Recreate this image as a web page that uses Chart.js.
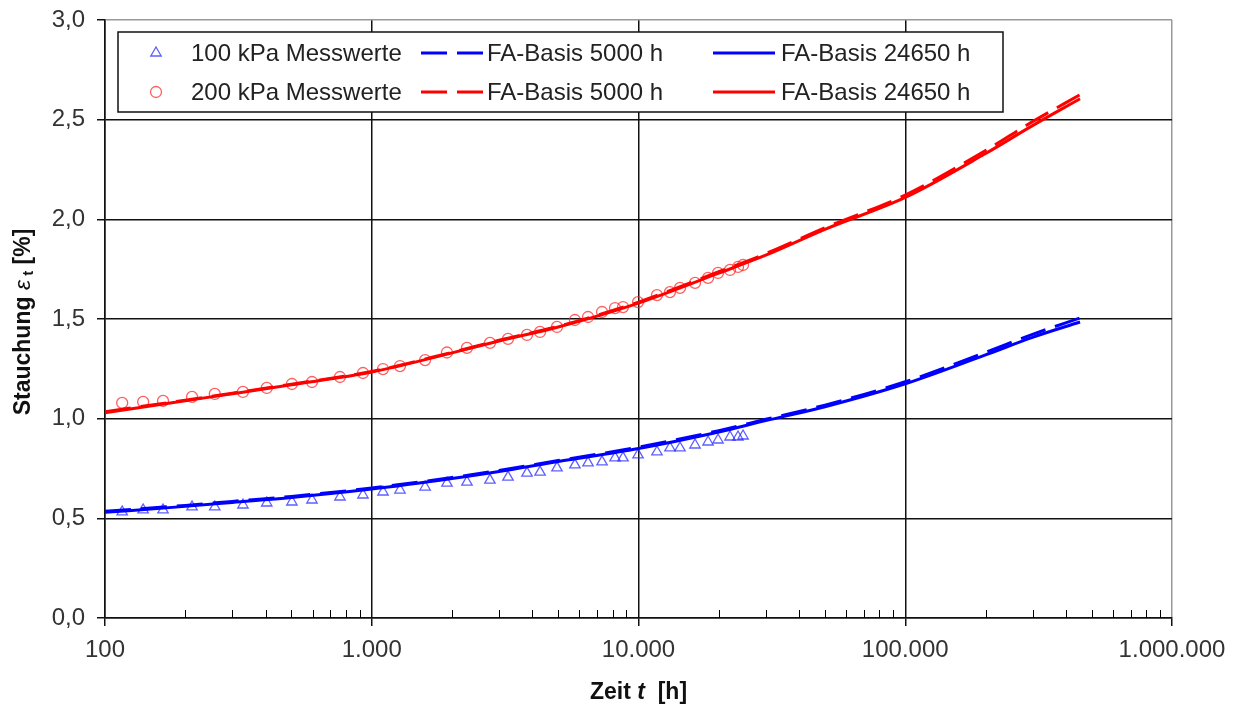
<!DOCTYPE html>
<html>
<head>
<meta charset="utf-8">
<script src="https://cdn.jsdelivr.net/npm/chart.js@4.4.1/dist/chart.umd.min.js"></script>
<style>
  html, body { margin: 0; padding: 0; background: #fff; }
  #wrap { width: 1239px; height: 709px; }
</style>
</head>
<body>
<div id="wrap"><canvas id="chart"></canvas></div>
<script>
// Zeit t [h] fuer die FA-Basis Kurven
var tFit = [100, 200, 300, 500, 1000, 2000, 3000, 5000, 10000, 20000, 30000, 50000, 100000, 200000, 300000, 452000];
// Stauchung [%]
var blue5000  = [0.535, 0.565, 0.585, 0.61, 0.652, 0.705, 0.74, 0.79, 0.857, 0.94, 0.997, 1.068, 1.185, 1.333, 1.423, 1.505];
var blue24650 = [0.53, 0.56, 0.58, 0.605, 0.647, 0.70, 0.735, 0.785, 0.85, 0.933, 0.99, 1.06, 1.175, 1.32, 1.408, 1.485];
var red5000   = [1.035, 1.093, 1.128, 1.173, 1.237, 1.333, 1.393, 1.463, 1.585, 1.737, 1.828, 1.958, 2.122, 2.345, 2.49, 2.625];
var red24650  = [1.03, 1.09, 1.125, 1.17, 1.234, 1.33, 1.39, 1.46, 1.58, 1.73, 1.82, 1.95, 2.11, 2.33, 2.47, 2.605];

// Messwerte
var tMess = [116, 139, 165, 212, 258, 329, 404, 502, 597, 760, 927, 1102, 1276, 1585, 1914, 2275, 2774, 3242, 3820, 4275, 4948, 5777, 6469, 7300, 8166, 8750, 9960, 11730, 13120, 14310, 16290, 18230, 19870, 22030, 23610, 24660];
var mess100 = [0.532, 0.542, 0.542, 0.557, 0.557, 0.567, 0.577, 0.582, 0.592, 0.607, 0.617, 0.632, 0.642, 0.657, 0.677, 0.682, 0.692, 0.707, 0.727, 0.732, 0.753, 0.768, 0.778, 0.783, 0.803, 0.803, 0.818, 0.833, 0.853, 0.853, 0.868, 0.883, 0.893, 0.908, 0.908, 0.913];
var mess200 = [1.079, 1.084, 1.089, 1.109, 1.124, 1.134, 1.154, 1.174, 1.184, 1.209, 1.229, 1.249, 1.264, 1.294, 1.332, 1.355, 1.380, 1.400, 1.420, 1.435, 1.460, 1.495, 1.510, 1.535, 1.555, 1.560, 1.585, 1.620, 1.635, 1.656, 1.681, 1.706, 1.731, 1.746, 1.761, 1.771];

var xTicks = [];
for (let e = 2; e < 6; e++) {
  for (let k = 1; k < 10; k++) xTicks.push(k * Math.pow(10, e));
}
xTicks.push(1000000);
var yTicks = [0, 0.5, 1.0, 1.5, 2.0, 2.5, 3.0];

function pts(xs, ys) {
  return xs.map((x, i) => ({ x: x, y: ys[i] }));
}
function isDecade(v) {
  let l = Math.log10(v);
  return Math.abs(l - Math.round(l)) < 1e-9;
}
function fmtDE(v) {
  return String(Math.round(v)).replace(/\B(?=(\d{3})+(?!\d))/g, '.');
}

const FONT = "'Liberation Sans', Arial, sans-serif";

// eigene Legende (3 Spalten x 2 Zeilen) und Achsentitel
const extras = {
  id: 'extras',
  afterDraw(chart) {
    const ctx = chart.ctx;
    const area = chart.chartArea;
    const xs = chart.scales.x;

    // kleine Zwischenstriche innen an der x-Achse
    ctx.save();
    ctx.strokeStyle = '#000';
    ctx.lineWidth = 1;
    xTicks.forEach(v => {
      if (isDecade(v)) return;
      const px = Math.round(xs.getPixelForValue(v)) + 0.5;
      ctx.beginPath();
      ctx.moveTo(px, area.bottom);
      ctx.lineTo(px, area.bottom - 8);
      ctx.stroke();
    });
    ctx.restore();

    // Legende
    ctx.save();
    ctx.fillStyle = '#fff';
    ctx.fillRect(118, 32, 885, 80);
    ctx.strokeStyle = '#111';
    ctx.lineWidth = 1.5;
    ctx.strokeRect(118, 32, 885, 80);
    const rowsY = [53, 92];
    const colMark = [[156, 156], [421, 483], [713, 775]];
    const colText = [191, 487, 781];
    ctx.font = '24px ' + FONT;
    ctx.textBaseline = 'middle';
    chart.data.datasets.forEach((ds, i) => {
      const r = Math.floor(i / 3), c = i % 3;
      const y = rowsY[r];
      if (ds.showLine === false) {
        ctx.save();
        ctx.strokeStyle = ds.borderColor;
        ctx.fillStyle = 'rgba(0,0,0,0)';
        ctx.lineWidth = ds.pointBorderWidth;
        Chart.helpers.drawPoint(ctx, {
          pointStyle: ds.pointStyle,
          rotation: 0,
          radius: ds.pointRadius,
          borderWidth: ds.pointBorderWidth
        }, colMark[c][0], y);
        ctx.restore();
      } else {
        ctx.save();
        ctx.strokeStyle = ds.borderColor;
        ctx.lineWidth = ds.borderWidth;
        ctx.setLineDash(ds.borderDash || []);
        ctx.beginPath();
        ctx.moveTo(colMark[c][0], y);
        ctx.lineTo(colMark[c][1], y);
        ctx.stroke();
        ctx.restore();
      }
      ctx.fillStyle = '#222';
      ctx.textAlign = 'left';
      ctx.fillText(ds.label, colText[c], y + 1);
    });
    ctx.restore();

    // x-Achsentitel: Zeit t [h]
    ctx.save();
    ctx.fillStyle = '#111';
    ctx.textBaseline = 'middle';
    const partsX = [['bold 23px ' + FONT, 'Zeit '], ['italic bold 23px ' + FONT, 't'], ['bold 23px ' + FONT, '  [h]']];
    let wX = 0;
    partsX.forEach(p => { ctx.font = p[0]; wX += ctx.measureText(p[1]).width; });
    let cx = (area.left + area.right) / 2 - wX / 2;
    partsX.forEach(p => { ctx.font = p[0]; ctx.fillText(p[1], cx, 693); cx += ctx.measureText(p[1]).width; });
    ctx.restore();

    // y-Achsentitel: Stauchung εt [%]
    ctx.save();
    ctx.translate(24, 322);
    ctx.rotate(-Math.PI / 2);
    ctx.fillStyle = '#111';
    ctx.textBaseline = 'middle';
    const partsY = [['bold 23px ' + FONT, 'Stauchung ', 0], ['italic 23px ' + FONT, 'ε', 0], ['bold 15px ' + FONT, ' t', 5], ['bold 23px ' + FONT, ' [%]', 0]];
    let wY = 0;
    partsY.forEach(p => { ctx.font = p[0]; wY += ctx.measureText(p[1]).width; });
    let cy = -wY / 2;
    partsY.forEach(p => { ctx.font = p[0]; ctx.fillText(p[1], cy, p[2]); cy += ctx.measureText(p[1]).width; });
    ctx.restore();
  }
};

const ctx = document.getElementById('chart').getContext('2d');
const chart = new Chart(ctx, {
  type: 'scatter',
  data: {
    datasets: [
      {
        label: '100 kPa Messwerte',
        data: pts(tMess, mess100),
        showLine: false,
        pointStyle: 'triangle',
        pointRadius: 6,
        pointBorderWidth: 1.3,
        borderColor: 'rgba(40,40,255,0.75)',
        backgroundColor: 'rgba(0,0,0,0)',
        order: 3
      },
      {
        label: 'FA-Basis 5000 h',
        data: pts(tFit, blue5000),
        showLine: true,
        pointRadius: 0,
        borderColor: '#0000ff',
        borderWidth: 3,
        borderDash: [26, 10],
        cubicInterpolationMode: 'monotone',
        order: 1
      },
      {
        label: 'FA-Basis 24650 h',
        data: pts(tFit, blue24650),
        showLine: true,
        pointRadius: 0,
        borderColor: '#0000ff',
        borderWidth: 3,
        cubicInterpolationMode: 'monotone',
        order: 2
      },
      {
        label: '200 kPa Messwerte',
        data: pts(tMess, mess200),
        showLine: false,
        pointStyle: 'circle',
        pointRadius: 5.5,
        pointBorderWidth: 1.3,
        borderColor: 'rgba(255,40,40,0.75)',
        backgroundColor: 'rgba(0,0,0,0)',
        order: 3
      },
      {
        label: 'FA-Basis 5000 h',
        data: pts(tFit, red5000),
        showLine: true,
        pointRadius: 0,
        borderColor: '#ff0000',
        borderWidth: 3,
        borderDash: [26, 10],
        cubicInterpolationMode: 'monotone',
        order: 1
      },
      {
        label: 'FA-Basis 24650 h',
        data: pts(tFit, red24650),
        showLine: true,
        pointRadius: 0,
        borderColor: '#ff0000',
        borderWidth: 3,
        cubicInterpolationMode: 'monotone',
        order: 2
      }
    ]
  },
  options: {
    responsive: true,
    maintainAspectRatio: false,
    devicePixelRatio: 1,
    animation: false,
    layout: { padding: { top: 20, right: 67, left: 0, bottom: 0 } },
    plugins: {
      legend: { display: false },
      tooltip: { enabled: false }
    },
    scales: {
      x: {
        type: 'logarithmic',
        min: 100,
        max: 1000000,
        afterBuildTicks: s => { s.ticks = xTicks.map(v => ({ value: v, major: isDecade(v) })); },
        afterFit: s => { s.height = 91; },
        ticks: {
          autoSkip: false,
          maxRotation: 0,
          padding: 10,
          color: '#333',
          font: { family: FONT, size: 24 },
          callback: v => isDecade(v) ? fmtDE(v) : ''
        },
        grid: {
          lineWidth: 1.5,
          tickLength: 8,
          color: c => (c.tick && isDecade(c.tick.value)) ? (c.tick.value >= 1000000 ? '#999' : '#111') : 'rgba(0,0,0,0)',
          tickColor: c => (c.tick && isDecade(c.tick.value)) ? '#111' : 'rgba(0,0,0,0)'
        },
        border: { color: '#111', width: 1.5 }
      },
      y: {
        min: 0,
        max: 3,
        afterBuildTicks: s => { s.ticks = yTicks.map(v => ({ value: v })); },
        afterFit: s => { s.width = 105; s.paddingTop = 0; s.paddingBottom = 0; },
        ticks: {
          padding: 12,
          color: '#333',
          font: { family: FONT, size: 24 },
          callback: v => v.toFixed(1).replace('.', ',')
        },
        grid: {
          lineWidth: 1.5,
          tickLength: 8,
          color: c => (c.tick && c.tick.value >= 3) ? '#999' : '#111',
          tickColor: '#111'
        },
        border: { color: '#111', width: 1.5 }
      }
    }
  },
  plugins: [extras]
});
</script>
</body>
</html>
